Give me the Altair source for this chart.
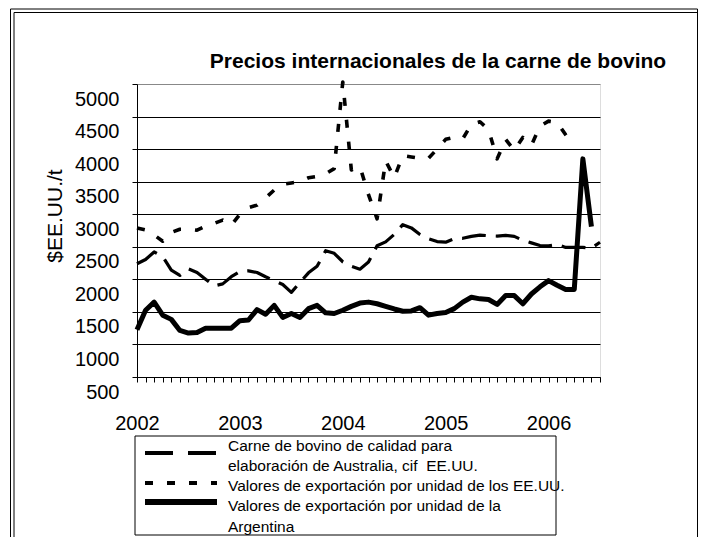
import altair as alt
import pandas as pd

# ---------------- data ----------------
years = ["2002", "2003", "2004", "2005", "2006"]
month_index = list(range(55))  # Jan 2002 .. Jul 2006

australia = [2240, 2305, 2420, 2350, 2140, 2060, 2160, 2105, 2000, 1900,
             1930, 2040, 2120, 2130, 2105, 2040, 1980, 1920, 1800, 1950,
             2100, 2200, 2440, 2400, 2270, 2200, 2155, 2265, 2515, 2575,
             2690, 2840, 2790, 2690, 2625, 2580, 2570, 2625, 2630, 2660,
             2680, 2670, 2665, 2675, 2660, 2600, 2560, 2520, 2515, 2535,
             2490, 2490, 2490, 2480, 2570]

usa = [2790, 2760, 2680, 2585, 2720, 2770, 2770, 2755, 2815, 2860,
       2910, 2830, 3000, 3100, 3140, 3250, 3370, 3460, 3480, 3500,
       3560, 3580, 3620, 3700, 5030, 3680, 3730, 3300, 2930, 3820,
       3560, 3900, 3880, 3860, 3860, 4000, 4150, 4180, 4160, 4380,
       4420, 4300, 3850, 4150, 3980, 4180, 4060, 4350, 4430, 4410,
       4220, 4050]

argentina = [1225, 1525, 1650, 1450, 1385, 1215, 1175, 1185, 1250, 1250,
             1250, 1250, 1365, 1375, 1535, 1465, 1600, 1415, 1475, 1415,
             1550, 1600, 1485, 1475, 1525, 1585, 1635, 1650, 1625, 1585,
             1545, 1510, 1515, 1565, 1450, 1475, 1490, 1550, 1650, 1725,
             1700, 1690, 1615, 1750, 1750, 1625, 1775, 1885, 1980, 1910,
             1845, 1845, 3850, 2810]

y_ticks = [500, 1000, 1500, 2000, 2500, 3000, 3500, 4000, 4500, 5000]

title_text = "Precios internacionales de la carne de bovino"
y_title = "$EE.UU./t"
legend_text = [
    "Carne de bovino de calidad para",
    "elaboración de Australia, cif\u00a0 EE.UU.",
    "Valores de exportación por unidad de los EE.UU.",
    "Valores de exportación por unidad de la",
    "Argentina",
]

FONT = "Liberation Sans"
W, H = 463, 293


def series_frame(vals):
    return pd.DataFrame({"mes": list(range(len(vals))), "valor": vals})


years_js = "[" + ",".join("'" + y + "'" for y in years) + "]"

x_enc = alt.X(
    "mes:Q",
    scale=alt.Scale(domain=[0, 54], nice=False, zero=False),
    axis=alt.Axis(
        values=month_index,
        labelExpr="datum.value % 12 == 0 ? " + years_js + "[datum.value / 12] : ''",
        title=None, grid=False, tickSize=5, tickColor="black", domainColor="black",
        labelFontSize=20, labelPadding=31, labelOverlap=False, labelFlush=False,
        labelBound=False, labelAngle=0, labelColor="black", labelFont=FONT,
        labelBaseline="top",
    ),
)
y_enc = alt.Y(
    "valor:Q",
    scale=alt.Scale(domain=[500, 5000], nice=False, zero=False),
    axis=alt.Axis(
        values=y_ticks, format="d", title=None, grid=True,
        gridColor={"condition": {"test": "datum.value >= 5000", "value": "#888888"}, "value": "#000000"},
        gridWidth=1, tickSize=5, tickColor="black", domainColor="black",
        labelFontSize=20, labelPadding=13, labelOffset=15, labelColor="black",
        labelFont=FONT, labelOverlap=False, labelBound=False, labelFlush=False,
    ),
)

aus_line = alt.Chart(series_frame(australia)).mark_line(
    color="black", strokeWidth=3.2, strokeDash=[24, 10], strokeCap="butt", strokeJoin="round"
).encode(x=x_enc, y=y_enc)

usa_line = alt.Chart(series_frame(usa)).mark_line(
    color="black", strokeWidth=3.6, strokeDash=[8, 14], strokeCap="butt", strokeJoin="round"
).encode(x=x_enc, y=y_enc)

arg_line = alt.Chart(series_frame(argentina)).mark_line(
    color="black", strokeWidth=5, strokeJoin="round"
).encode(x=x_enc, y=y_enc)

one = pd.DataFrame({"k": [0]})

title_layer = alt.Chart(one).mark_text(
    font=FONT, fontSize=21, fontWeight="bold", color="black", align="center", baseline="middle"
).encode(x=alt.value(301), y=alt.value(-22), text=alt.value(title_text))

ytitle_layer = alt.Chart(one).mark_text(
    font=FONT, fontSize=21, color="black", align="center", baseline="middle", angle=270
).encode(x=alt.value(-81), y=alt.value(132), text=alt.value(y_title))

legend_box = alt.Chart(one).mark_rect(
    fillOpacity=0, stroke="black", strokeWidth=1
).encode(x=alt.value(-2), x2=alt.value(419), y=alt.value(352), y2=alt.value(451))

leg_aus = alt.Chart(one).mark_rule(
    color="black", strokeWidth=4, strokeDash=[28, 15], strokeCap="butt"
).encode(x=alt.value(8), x2=alt.value(80), y=alt.value(369))
leg_usa = alt.Chart(one).mark_rule(
    color="black", strokeWidth=4, strokeDash=[8, 14], strokeCap="butt"
).encode(x=alt.value(8), x2=alt.value(80), y=alt.value(399))
leg_arg = alt.Chart(one).mark_rule(
    color="black", strokeWidth=6, strokeCap="butt"
).encode(x=alt.value(8), x2=alt.value(80), y=alt.value(418))

legend_rows = [362, 382, 402, 422, 443]
legend_texts = [
    alt.Chart(one).mark_text(
        font=FONT, fontSize=15.5, color="black", align="left", baseline="middle"
    ).encode(x=alt.value(91), y=alt.value(yy), text=alt.value(t))
    for t, yy in zip(legend_text, legend_rows)
]

frame_layers = [
    alt.Chart(one).mark_rule(color="black", strokeWidth=1).encode(
        x=alt.value(-126.5), y=alt.value(-75), y2=alt.value(470)),
    alt.Chart(one).mark_rule(color="black", strokeWidth=1).encode(
        x=alt.value(-123), y=alt.value(-71.5), y2=alt.value(470)),
    alt.Chart(one).mark_rule(color="black", strokeWidth=1).encode(
        x=alt.value(-126.5), x2=alt.value(560.5), y=alt.value(-75)),
    alt.Chart(one).mark_rule(color="black", strokeWidth=1).encode(
        x=alt.value(-123), x2=alt.value(560.5), y=alt.value(-71.5)),
    alt.Chart(one).mark_rule(color="black", strokeWidth=1).encode(
        x=alt.value(560.5), y=alt.value(-75), y2=alt.value(470)),
]

chart = alt.layer(
    aus_line, usa_line, arg_line,
    title_layer, ytitle_layer, legend_box, leg_aus, leg_usa, leg_arg,
    *legend_texts, *frame_layers,
).properties(
    width=W, height=H,
    autosize=alt.AutoSizeParams(type="none"),
    padding={"left": 129, "top": 76, "right": 98, "bottom": 160},
).configure_view(
    stroke="#888888", strokeWidth=1
).configure(
    font=FONT, background="white"
)

chart.save("out.html", embed_options={"renderer": "svg", "actions": False})
